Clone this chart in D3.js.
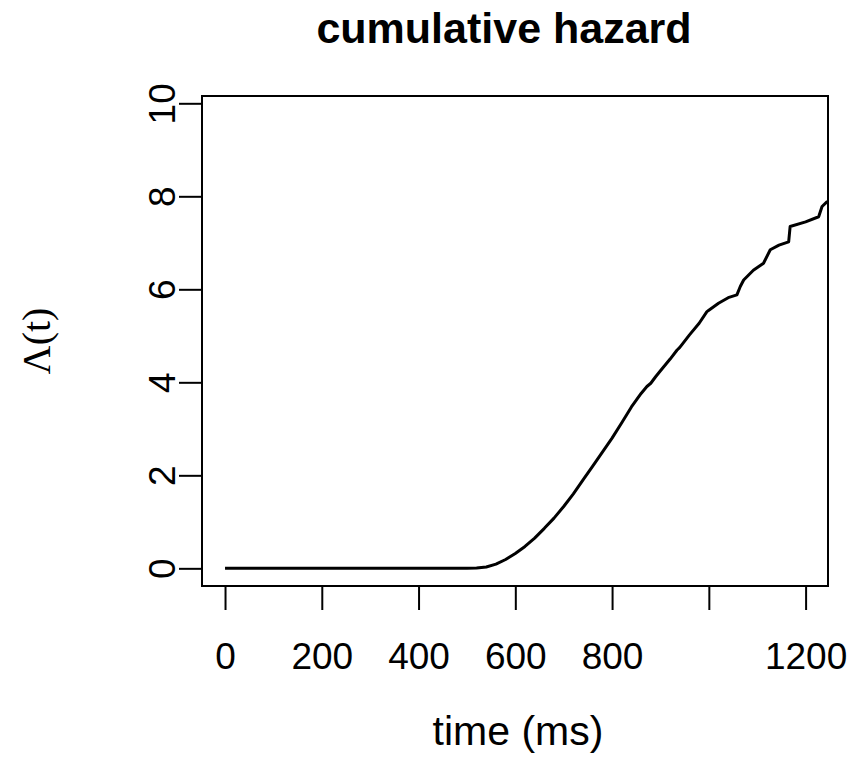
<!DOCTYPE html>
<html><head><meta charset="utf-8">
<script src="https://cdn.jsdelivr.net/npm/d3@7"></script>
<style>body{margin:0;background:#fff}</style>
</head><body>
<script>
const times = [0,100,200,300,400,500,520,540,560,580,600,620,640,660,680,700,720,740,760,780,800,820,840,860,872,880,890,900,920,934,940,960,980,996,1000,1020,1040,1058,1065,1072,1092,1113,1127,1145,1165,1168,1200,1227,1234,1244,1250];
const hazard = [0,0,0,0,0,0,0.005,0.03,0.09,0.19,0.32,0.47,0.65,0.86,1.08,1.33,1.60,1.90,2.20,2.50,2.80,3.13,3.47,3.76,3.91,3.98,4.12,4.25,4.50,4.69,4.75,5.02,5.27,5.52,5.55,5.70,5.82,5.88,6.06,6.20,6.41,6.56,6.85,6.95,7.02,7.35,7.45,7.56,7.78,7.88,7.90];
const xTicks = [0,200,400,600,800,1000,1200];
const xTickLabels = ["0","200","400","600","800","","1200"];
const yTicks = [0,2,4,6,8,10];

const W=850,H=768;
const L=202,R=828,T=96,B=586;
const x = d3.scaleLinear().domain([-47.6,1246.3]).range([L,R]);
const y = d3.scaleLinear().domain([-0.38,10.157]).range([B,T]);

const svg = d3.select("body").append("svg").attr("width",W).attr("height",H);
svg.append("defs").append("clipPath").attr("id","clip")
  .append("rect").attr("x",L).attr("y",T).attr("width",R-L).attr("height",B-T);

const data = times.map((t,i)=>({t,v:hazard[i]}));
svg.append("path").datum(data).attr("clip-path","url(#clip)")
  .attr("fill","none").attr("stroke","#000").attr("stroke-width",3)
  .attr("stroke-linejoin","round")
  .attr("d", d3.line().x(d=>x(d.t)).y(d=>y(d.v)));

svg.append("rect").attr("x",L).attr("y",T).attr("width",R-L).attr("height",B-T)
  .attr("fill","none").attr("stroke","#000").attr("stroke-width",2);

const font = "'Liberation Sans', Arial, Helvetica, sans-serif";
// x axis
const xa = svg.append("g").attr("transform",`translate(0,${B})`)
  .call(d3.axisBottom(x).tickValues(xTicks).tickSize(24).tickSizeOuter(0).tickFormat((d,i)=>xTickLabels[i]));
xa.select(".domain").attr("d",`M${x(0)},0H${x(1200)}`).attr("stroke-width",2);
xa.selectAll(".tick line").attr("stroke-width",2);
xa.selectAll(".tick text").attr("y",null).attr("dy",null).attr("transform","translate(0,83)")
  .style("font-family",font).style("font-size","37px").attr("fill","#000");

// y axis
const ya = svg.append("g").attr("transform",`translate(${L},0)`)
  .call(d3.axisLeft(y).tickValues(yTicks).tickSize(23).tickSizeOuter(0).tickFormat(d3.format("d")));
ya.select(".domain").attr("d",`M0,${y(0)}V${y(10)}`).attr("stroke-width",2);
ya.selectAll(".tick line").attr("stroke-width",2);
ya.selectAll(".tick text").attr("x",null).attr("dy",null)
  .attr("transform","translate(-27,0) rotate(-90)").attr("text-anchor","middle")
  .style("font-family",font).style("font-size","37px").attr("fill","#000");

svg.append("text").attr("x",504).attr("y",43).attr("text-anchor","middle")
  .style("font-family",font).style("font-size","43px").style("font-weight","bold").text("cumulative hazard");
svg.append("text").attr("x",(L+R)/2 + 3).attr("y",745).attr("text-anchor","middle")
  .style("font-family",font).style("font-size","41px").text("time (ms)");
svg.append("text").attr("transform",`translate(50,${(T+B)/2}) rotate(-90)`).attr("text-anchor","middle")
  .style("font-family","'Liberation Serif','Times New Roman',serif").style("font-size","40px").text("Λ(t)");
</script>
</body></html>
